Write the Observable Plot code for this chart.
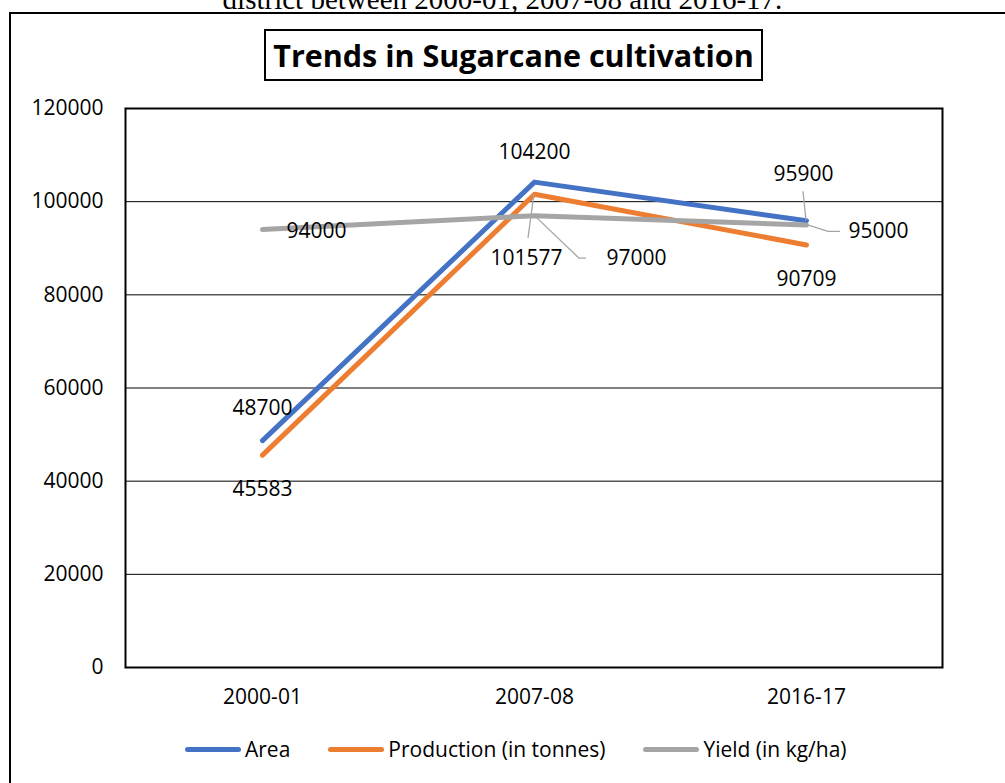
<!DOCTYPE html>
<html>
<head>
<meta charset="utf-8">
<script src="https://cdn.jsdelivr.net/npm/d3@7"></script>
<script src="https://cdn.jsdelivr.net/npm/@observablehq/plot@0.6"></script>
<style>
  html, body { margin: 0; padding: 0; background: #fff; }
  #page { position: relative; width: 1005px; height: 783px; overflow: hidden; font-family: "Open Sans", sans-serif; color: #000; }
  #lead { position: absolute; left: 0; width: 1005px; top: -16px; text-align: center; font-family: "Liberation Serif", serif; font-size: 29px; line-height: 30px; white-space: nowrap; }
  #border { position: absolute; left: 9px; top: 12px; width: 1200px; height: 1000px; border-left: 2px solid #000; border-top: 2px solid #000; }
  #title { position: absolute; left: 264px; top: 29px; width: 495px; height: 48px; border: 2px solid #000; display: flex; align-items: center; justify-content: center; font-weight: bold; font-size: 30.5px; white-space: nowrap; background: #fff; }
  #chart { position: absolute; left: 0; top: 0; }
  #legend { position: absolute; left: 185px; top: 736px; height: 26px; display: flex; align-items: center; font-size: 21px; white-space: nowrap; }
  .item { display: flex; align-items: center; margin-right: 38px; }
  .swatch { width: 56px; height: 5px; border-radius: 3px; margin-right: 4px; }
</style>
</head>
<body>
<div id="page">
  <div id="lead">district between 2000-01, 2007-08 and 2016-17.</div>
  <div id="border"></div>
  <div id="chart"></div>
  <div id="title">Trends in Sugarcane cultivation</div>
  <div id="legend"></div>
</div>
<script>
// Survey years and the three series
const years = ["2000-01", "2007-08", "2016-17"];
const area = [48700, 104200, 95900];
const production = [45583, 101577, 90709];
const yieldKgHa = [94000, 97000, 95000];

const seriesNames = ["Area", "Production (in tonnes)", "Yield (in kg/ha)"];
const seriesValues = [area, production, yieldKgHa];
const seriesColors = ["#4472C4", "#ED7D31", "#A5A5A5"];

const yTicks = [0, 20000, 40000, 60000, 80000, 100000, 120000];

// Long-form table for the line marks
const rows = seriesNames.flatMap((name, s) =>
  years.map((year, i) => ({series: name, year, value: seriesValues[s][i]}))
);

// Where each data label sits relative to its point (pixels)
const labelPlacement = {
  "Area": [
    {dx: 0, dy: -32, anchor: "middle"},
    {dx: 0, dy: -30, anchor: "middle"},
    {dx: -3, dy: -47, anchor: "middle"}
  ],
  "Production (in tonnes)": [
    {dx: 0, dy: 34, anchor: "middle"},
    {dx: -8, dy: 64, anchor: "middle"},
    {dx: 0, dy: 34, anchor: "middle"}
  ],
  "Yield (in kg/ha)": [
    {dx: 24, dy: 2, anchor: "start"},
    {dx: 72, dy: 43, anchor: "start"},
    {dx: 42, dy: 6, anchor: "start"}
  ]
};

// Leader lines from a point to a displaced label (pixel offsets from the point)
const leaderLines = [
  {series: "Area", index: 2, path: [[-3, -29], [0, 0]]},
  {series: "Production (in tonnes)", index: 1, path: [[0, 0], [-6, 44]]},
  {series: "Yield (in kg/ha)", index: 1, path: [[0, 0], [45, 43], [52, 43]]},
  {series: "Yield (in kg/ha)", index: 2, path: [[0, 0], [22, 7], [34, 7]]}
];

function leaderMark(index, scales) {
  const g = d3.create("svg:g").attr("fill", "none").attr("stroke", "#A5A5A5").attr("stroke-width", 1.3);
  for (const L of leaderLines) {
    const s = seriesNames.indexOf(L.series);
    const x0 = scales.x(years[L.index]);
    const y0 = scales.y(seriesValues[s][L.index]);
    g.append("path").attr("d", d3.line()(L.path.map(([dx, dy]) => [x0 + dx, y0 + dy])));
  }
  return g.node();
}

const labelMarks = seriesNames.flatMap((name, s) =>
  years.map((year, i) => {
    const p = labelPlacement[name][i];
    return Plot.text([{year, value: seriesValues[s][i]}], {
      x: "year", y: "value", text: d => String(d.value),
      dx: p.dx, dy: p.dy, textAnchor: p.anchor,
      fontSize: 21, fill: "#000"
    });
  })
);

const chart = Plot.plot({
  width: 1005,
  height: 783,
  marginLeft: 125,
  marginRight: 63,
  marginTop: 108,
  marginBottom: 116,
  style: {fontFamily: "'Open Sans', sans-serif", fontSize: "21px", color: "#000", background: "transparent", overflow: "visible"},
  x: {type: "point", domain: years, padding: 0.5, label: null},
  y: {domain: [0, 120000], label: null},
  marks: [
    Plot.ruleY(yTicks.slice(1, -1), {stroke: "#000", strokeWidth: 1}),
    Plot.frame({stroke: "#000", strokeWidth: 2}),
    Plot.axisY({ticks: yTicks, tickFormat: d3.format("d"), tickSize: 0, tickPadding: 22, fontSize: 21, label: null}),
    Plot.axisX({tickSize: 0, tickPadding: 22, fontSize: 21, label: null}),
    ...seriesNames.map((name, s) =>
      Plot.line(rows.filter(d => d.series === name), {
        x: "year", y: "value", stroke: seriesColors[s], strokeWidth: 5,
        strokeLinecap: "round", strokeLinejoin: "round"
      })
    ),
    leaderMark,
    ...labelMarks
  ]
});
document.getElementById("chart").appendChild(chart);

// Legend row
const legend = d3.select("#legend");
seriesNames.forEach((name, s) => {
  const item = legend.append("div").attr("class", "item");
  item.append("div").attr("class", "swatch").style("background", seriesColors[s]);
  item.append("span").text(name);
});
</script>
</body>
</html>
